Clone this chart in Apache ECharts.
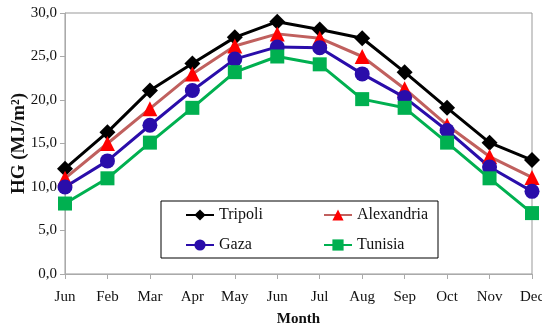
<!DOCTYPE html>
<html><head><meta charset="utf-8">
<script src="https://cdn.jsdelivr.net/npm/echarts@6/dist/echarts.min.js"></script>
<style>html,body{margin:0;padding:0;background:#fff}#c{width:542px;height:327px}</style>
</head><body><div id="c"></div>
<script>
var months = ['Jun','Feb','Mar','Apr','May','Jun','Jul','Aug','Sep','Oct','Nov','Dec'];
var tripoli = [12.1, 16.3, 21.1, 24.2, 27.2, 29.0, 28.1, 27.1, 23.2, 19.1, 15.1, 13.1];
var alexandria = [11.0, 15.0, 19.0, 23.0, 26.2, 27.6, 27.1, 25.0, 21.3, 17.1, 13.5, 11.1];
var gaza = [10.0, 13.0, 17.1, 21.1, 24.7, 26.1, 26.0, 23.0, 20.3, 16.5, 12.3, 9.5];
var tunisia = [8.1, 11.0, 15.1, 19.1, 23.2, 25.0, 24.1, 20.1, 19.1, 15.1, 11.0, 7.0];
var yTicks = {min: 0, max: 30, interval: 5};

var font = 'Liberation Serif';
var chart = echarts.init(document.getElementById('c'), null, {renderer: 'canvas'});
function ser(name, data, lineColor, symbol, symColor, size) {
  return {
    name: name, type: 'line', data: data, symbol: symbol, symbolSize: size,
    lineStyle: {color: lineColor, width: 3},
    itemStyle: {color: symColor, borderWidth: 0},
    emphasis: {disabled: true}, animation: false
  };
}
chart.setOption({
  animation: false,
  textStyle: {fontFamily: font},
  grid: {left: 65, right: 10, top: 13, bottom: 53, show: true, borderColor: '#999', borderWidth: 1,
    containLabel: false, outerBoundsMode: 'none'},
  legend: [{
    data: ['Tripoli', 'Gaza'], orient: 'vertical', left: 161, top: 201,
    padding: [6, 159, 5, 24], itemGap: 14, itemWidth: 28, itemHeight: 14,
    borderColor: '#000', borderWidth: 1, backgroundColor: '#fff',
    textStyle: {fontFamily: font, fontSize: 16, color: '#111', width: 60, lineHeight: 16}
  }, {
    data: ['Alexandria', 'Tunisia'], orient: 'vertical', left: 323, top: 207,
    padding: 0, itemGap: 14, itemWidth: 28, itemHeight: 14,
    textStyle: {fontFamily: font, fontSize: 16, color: '#111', lineHeight: 16}
  }],
  xAxis: {
    type: 'category', data: months, boundaryGap: false,
    name: 'Month', nameLocation: 'middle', nameGap: 38, nameMoveOverlap: false,
    nameTextStyle: {fontFamily: font, fontWeight: 'bold', fontSize: 15, color: '#111'},
    axisLine: {lineStyle: {color: '#aaa'}},
    axisTick: {show: true, length: 5, lineStyle: {color: '#aaa'}},
    axisLabel: {fontFamily: font, fontSize: 15, color: '#111', margin: 16, interval: 0}
  },
  yAxis: {
    type: 'value', min: yTicks.min, max: yTicks.max, interval: yTicks.interval,
    name: 'HG (MJ/m\u00B2)', nameLocation: 'middle', nameGap: 36, nameMoveOverlap: false,
    nameTextStyle: {fontFamily: font, fontWeight: 'bold', fontSize: 19, color: '#111'},
    axisLine: {show: true, lineStyle: {color: '#aaa'}},
    axisTick: {show: true, length: 5, lineStyle: {color: '#aaa'}},
    splitLine: {show: false},
    axisLabel: {fontFamily: font, fontSize: 15, color: '#111', margin: 8,
      formatter: function (v) { return v.toFixed(1).replace('.', ','); }}
  },
  series: [
    ser('Tripoli', tripoli, '#000', 'diamond', '#000', 16),
    ser('Alexandria', alexandria, '#C0605E', 'triangle', '#FF0000', 15),
    ser('Gaza', gaza, '#2A0DAA', 'circle', '#2A0DAA', 15),
    ser('Tunisia', tunisia, '#00B050', 'rect', '#00B050', 14)
  ]
});
</script></body></html>
